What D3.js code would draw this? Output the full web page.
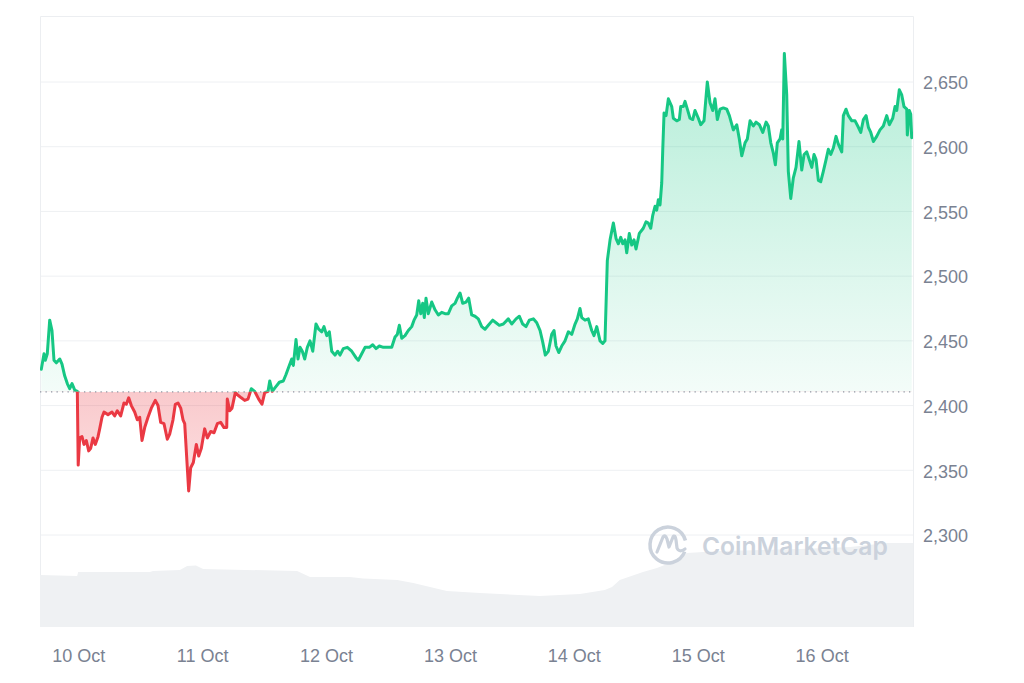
<!DOCTYPE html>
<html>
<head>
<meta charset="utf-8">
<script src="https://cdn.jsdelivr.net/npm/d3@7"></script>
<style>
html,body{margin:0;padding:0;background:#ffffff;}
svg{display:block;}
</style>
</head>
<body>
<svg id="chart" width="1024" height="683"></svg>
<script>
// ---------------- DATA ----------------
// hours since 10 Oct 2024 00:00
const priceHours = [
-7.15,-6.62,-6.37,-5.99,-5.52,-5.08,-4.69,-4.24,-3.58,-3.14,
-2.62,-2.11,-1.65,-1.20,-0.68,-0.17,0.00,0.29,0.74,1.12,
1.57,2.03,2.42,2.87,3.31,3.84,4.16,4.61,5.00,5.77,
6.55,7.07,7.57,8.23,8.87,9.32,9.78,10.29,10.94,11.45,
11.91,12.36,12.88,13.52,14.16,14.93,15.46,15.98,16.62,17.26,
17.72,18.36,18.81,19.33,19.86,20.30,20.63,21.40,21.79,22.30,
22.88,23.34,23.85,24.50,25.01,25.67,26.31,26.95,27.60,28.24,
28.77,28.88,29.35,29.79,30.43,30.96,31.59,32.25,32.89,33.53,
34.19,34.96,35.60,36.13,36.77,37.10,37.60,38.18,38.96,39.73,
40.25,40.89,41.36,41.67,42.19,42.58,42.97,43.41,43.88,44.38,
44.90,45.43,46.06,46.59,47.17,47.61,48.14,48.64,49.11,49.74,
50.27,50.71,51.35,52.13,52.98,53.81,54.26,54.92,55.56,56.39,
57.05,57.69,58.33,59.10,60.07,60.73,61.37,61.81,62.20,62.67,
63.30,63.94,64.60,65.05,65.57,65.96,66.35,66.73,67.04,67.37,
67.82,68.48,69.12,69.76,70.41,71.05,71.69,72.35,72.99,73.44,
73.96,74.48,75.12,75.64,76.22,76.86,77.50,78.16,78.80,79.44,
80.29,80.93,81.57,82.35,83.31,83.97,84.81,85.45,86.10,86.74,
87.38,88.16,88.82,89.46,89.98,90.48,91.07,91.72,92.17,92.55,
93.08,93.66,94.30,94.94,95.60,96.24,96.68,97.20,97.53,98.17,
98.81,99.47,99.91,100.44,101.08,101.60,102.04,102.49,103.02,103.66,
104.18,104.63,105.09,105.48,105.92,106.25,106.75,107.22,107.66,108.05,
108.69,109.46,109.99,110.43,110.90,111.29,111.73,112.06,112.37,112.70,
113.03,113.23,113.48,113.87,114.31,114.97,115.28,115.94,116.44,116.71,
117.21,117.54,117.99,118.51,119.03,119.48,120.12,120.58,121.22,121.86,
122.38,122.91,123.35,123.80,124.32,124.96,125.62,126.13,126.90,127.56,
128.06,128.53,129.17,129.61,130.14,130.78,131.30,131.94,132.60,133.24,
133.68,134.15,134.65,135.04,135.42,135.95,136.27,136.47,136.78,137.24,
137.55,138.02,138.52,139.04,139.62,140.15,140.60,141.12,141.62,142.09,
142.53,142.92,143.37,143.83,144.33,144.86,145.30,145.77,146.27,146.79,
147.24,147.90,148.21,148.73,149.18,149.84,150.48,151.12,151.58,152.09,
152.61,153.06,153.52,154.03,154.67,155.31,155.95,156.61,157.11,157.77,
158.22,158.55,159.05,159.52,159.96,160.49,160.60,160.99,161.26,161.45
];
const prices = [
2428,2440,2435,2440,2466,2458,2435,2433,2436,2432,
2423,2417,2413,2417,2412,2411,2354,2375,2376,2370,
2373,2365,2367,2375,2370,2376,2382,2391,2395,2393,
2395,2392,2396,2392,2402,2401,2406,2400,2395,2389,
2391,2373,2383,2391,2398,2404,2400,2387,2386,2374,
2378,2389,2401,2402,2398,2389,2386,2334,2352,2356,
2370,2361,2367,2382,2375,2380,2379,2386,2387,2383,
2383,2405,2396,2398,2410,2408,2406,2404,2405,2413,
2411,2405,2401,2410,2411,2419,2411,2414,2418,2419,
2424,2431,2436,2431,2451,2436,2445,2442,2436,2445,
2450,2442,2463,2459,2457,2461,2454,2457,2442,2439,
2442,2439,2444,2445,2442,2437,2435,2440,2445,2445,
2447,2444,2446,2445,2445,2445,2453,2455,2462,2452,
2454,2458,2461,2466,2470,2481,2471,2479,2468,2483,
2471,2480,2474,2470,2472,2471,2471,2477,2479,2483,
2487,2479,2480,2483,2470,2469,2467,2461,2459,2462,
2466,2464,2462,2463,2467,2463,2467,2469,2463,2461,
2466,2467,2464,2458,2449,2439,2442,2455,2458,2446,
2441,2446,2450,2457,2455,2463,2467,2475,2468,2466,
2467,2458,2454,2461,2450,2448,2450,2512,2528,2541,
2529,2525,2530,2525,2528,2518,2533,2524,2528,2521,
2533,2537,2542,2541,2537,2547,2554,2551,2559,2555,
2572,2598,2626,2624,2637,2631,2622,2620,2621,2631,
2631,2635,2629,2622,2621,2628,2622,2617,2620,2650,
2634,2628,2637,2621,2629,2630,2629,2624,2613,2617,
2606,2593,2603,2606,2620,2616,2619,2617,2611,2619,
2616,2603,2595,2586,2603,2606,2613,2606,2672,2640,
2581,2560,2576,2584,2604,2582,2594,2596,2590,2584,
2594,2590,2574,2573,2581,2590,2598,2594,2599,2608,
2602,2596,2624,2629,2624,2620,2620,2615,2611,2621,
2624,2615,2611,2604,2608,2613,2616,2624,2617,2622,
2631,2628,2644,2640,2631,2629,2609,2628,2625,2607
];
const openPrice = 2410.6;   // reference (dotted) line

// trading volume (billions USD), hours since 10 Oct 00:00
const volumeHours = [-7.4,-0.2,0.0,13.9,14.5,19.7,21.1,22.8,24.2,42.4,44.9,52.6,55.2,61.8,64.9,71.4,77.8,89.4,97.2,102.0,103.4,104.9,109.4,112.1,114.6,117.9,124.3,139.8,149.5,156.7,161.7];
const volumes     = [10.4,10.2,11.0,11.0,11.2,11.4,12.2,12.3,11.6,11.2,10.0,10.0,9.7,9.4,8.8,7.2,6.8,6.2,6.6,7.4,8.0,9.4,11.0,11.8,12.8,14.8,15.2,15.6,16.0,16.8,16.8];

const priceTicks = [2300,2350,2400,2450,2500,2550,2600,2650];
const dayTicks = ["2024-10-10","2024-10-11","2024-10-12","2024-10-13","2024-10-14","2024-10-15","2024-10-16"];

// ---------------- CHART ----------------
const base = new Date(2024, 9, 10, 0, 0, 0);
const toDate = h => new Date(base.getTime() + h * 3600000);
const parseDay = d3.timeParse("%Y-%m-%d");

const L = 40, R = 913, T = 16, B = 627;
const x = d3.scaleTime().domain([toDate(-7.4), toDate(161.7)]).range([L, R]);
const y = d3.scaleLinear().domain([2300, 2650]).range([535, 82]);
const yVol = d3.scaleLinear().domain([0, 20]).range([B, 527]);

const series = priceHours.map((h, i) => ({t: toDate(h), v: prices[i]}));
const volSeries = volumeHours.map((h, i) => ({t: toDate(h), v: volumes[i]}));

const svg = d3.select("#chart");
const defs = svg.append("defs");

const yBase = y(openPrice);

const gGreen = defs.append("linearGradient").attr("id", "gGreen")
  .attr("gradientUnits", "userSpaceOnUse").attr("x1", 0).attr("x2", 0).attr("y1", y(2650)).attr("y2", yBase);
gGreen.append("stop").attr("offset", "0%").attr("stop-color", "#16c784").attr("stop-opacity", 0.30);
gGreen.append("stop").attr("offset", "100%").attr("stop-color", "#16c784").attr("stop-opacity", 0.05);

const gRed = defs.append("linearGradient").attr("id", "gRed")
  .attr("gradientUnits", "userSpaceOnUse").attr("x1", 0).attr("x2", 0).attr("y1", yBase).attr("y2", y(2330));
gRed.append("stop").attr("offset", "0%").attr("stop-color", "#ea3943").attr("stop-opacity", 0.27);
gRed.append("stop").attr("offset", "100%").attr("stop-color", "#ea3943").attr("stop-opacity", 0.15);

defs.append("clipPath").attr("id", "clipAbove").append("rect")
  .attr("x", L).attr("y", 0).attr("width", R - L).attr("height", yBase);
defs.append("clipPath").attr("id", "clipBelow").append("rect")
  .attr("x", L).attr("y", yBase).attr("width", R - L).attr("height", 683 - yBase);

// grid lines
svg.append("g").selectAll("line").data(priceTicks).join("line")
  .attr("x1", L).attr("x2", R)
  .attr("y1", d => y(d)).attr("y2", d => y(d))
  .attr("stroke", "#eef0f3").attr("stroke-width", 1);

// frame
svg.append("path")
  .attr("d", `M${L + 0.5},${B} V${T + 0.5} H${R + 0.5} V${B}`)
  .attr("fill", "none").attr("stroke", "#eceef1").attr("stroke-width", 1);

// volume
svg.append("path").datum(volSeries)
  .attr("fill", "#eff1f3")
  .attr("d", d3.area().x(d => x(d.t)).y0(B).y1(d => yVol(d.v)));

// watermark
const wm = svg.append("g").attr("fill", "none").attr("stroke", "#cbd2dc");
const cx = 668, cy = 545, r = 18;
const arc = d3.arc()({innerRadius: r, outerRadius: r, startAngle: Math.PI * 0.62, endAngle: Math.PI * 2.42});
wm.append("path").attr("transform", `translate(${cx},${cy})`).attr("d", arc).attr("stroke-width", 3.5);
wm.append("path")
  .attr("d", `M${cx-11},${cy+7} L${cx-5},${cy-8} Q${cx-3},${cy-11} ${cx-1},${cy-6} L${cx+1},${cy+2} L${cx+5},${cy-8} Q${cx+7},${cy-11} ${cx+8},${cy-5} L${cx+9},${cy+3} Q${cx+11},${cy+8} ${cx+17},${cy+4}`)
  .attr("stroke-width", 3.2).attr("stroke-linejoin", "round").attr("stroke-linecap", "round");
svg.append("text").attr("x", 702).attr("y", 555)
  .attr("font-family", "Inter, 'Noto Sans', sans-serif").attr("font-weight", 600)
  .attr("font-size", 24.6).attr("fill", "#cbd2dc").text("CoinMarketCap");

// price areas
const area = d3.area().x(d => x(d.t)).y0(yBase).y1(d => y(d.v));
svg.append("path").datum(series).attr("clip-path", "url(#clipAbove)")
  .attr("fill", "url(#gGreen)").attr("d", area);
svg.append("path").datum(series).attr("clip-path", "url(#clipBelow)")
  .attr("fill", "url(#gRed)").attr("d", area);

// baseline dotted
svg.append("line").attr("x1", L).attr("x2", R).attr("y1", yBase).attr("y2", yBase)
  .attr("stroke", "#8f96a3").attr("stroke-width", 1.3).attr("stroke-dasharray", "1.3 4.2");

// price lines
const line = d3.line().x(d => x(d.t)).y(d => y(d.v));
svg.append("path").datum(series).attr("clip-path", "url(#clipAbove)")
  .attr("fill", "none").attr("stroke", "#16c784").attr("stroke-width", 3)
  .attr("stroke-linejoin", "round").attr("stroke-linecap", "round").attr("d", line);
svg.append("path").datum(series).attr("clip-path", "url(#clipBelow)")
  .attr("fill", "none").attr("stroke", "#ea3943").attr("stroke-width", 3)
  .attr("stroke-linejoin", "round").attr("stroke-linecap", "round").attr("d", line);

// axes
const fontFam = "'Liberation Sans', Arial, Helvetica, sans-serif";
const yAxis = svg.append("g").attr("transform", `translate(${R},1)`)
  .call(d3.axisRight(y).tickValues(priceTicks).tickFormat(d3.format(",")).tickSize(0).tickPadding(10));
yAxis.select(".domain").remove();
yAxis.selectAll("text").attr("font-family", fontFam).attr("font-size", 18).attr("fill", "#7a8292");

const xAxis = svg.append("g").attr("transform", `translate(0,${B})`)
  .call(d3.axisBottom(x).tickValues(dayTicks.map(parseDay)).tickFormat(d3.timeFormat("%-d %b")).tickSize(0).tickPadding(22));
xAxis.select(".domain").remove();
xAxis.selectAll("text").attr("font-family", fontFam).attr("font-size", 18).attr("fill", "#7a8292");
</script>
</body>
</html>
